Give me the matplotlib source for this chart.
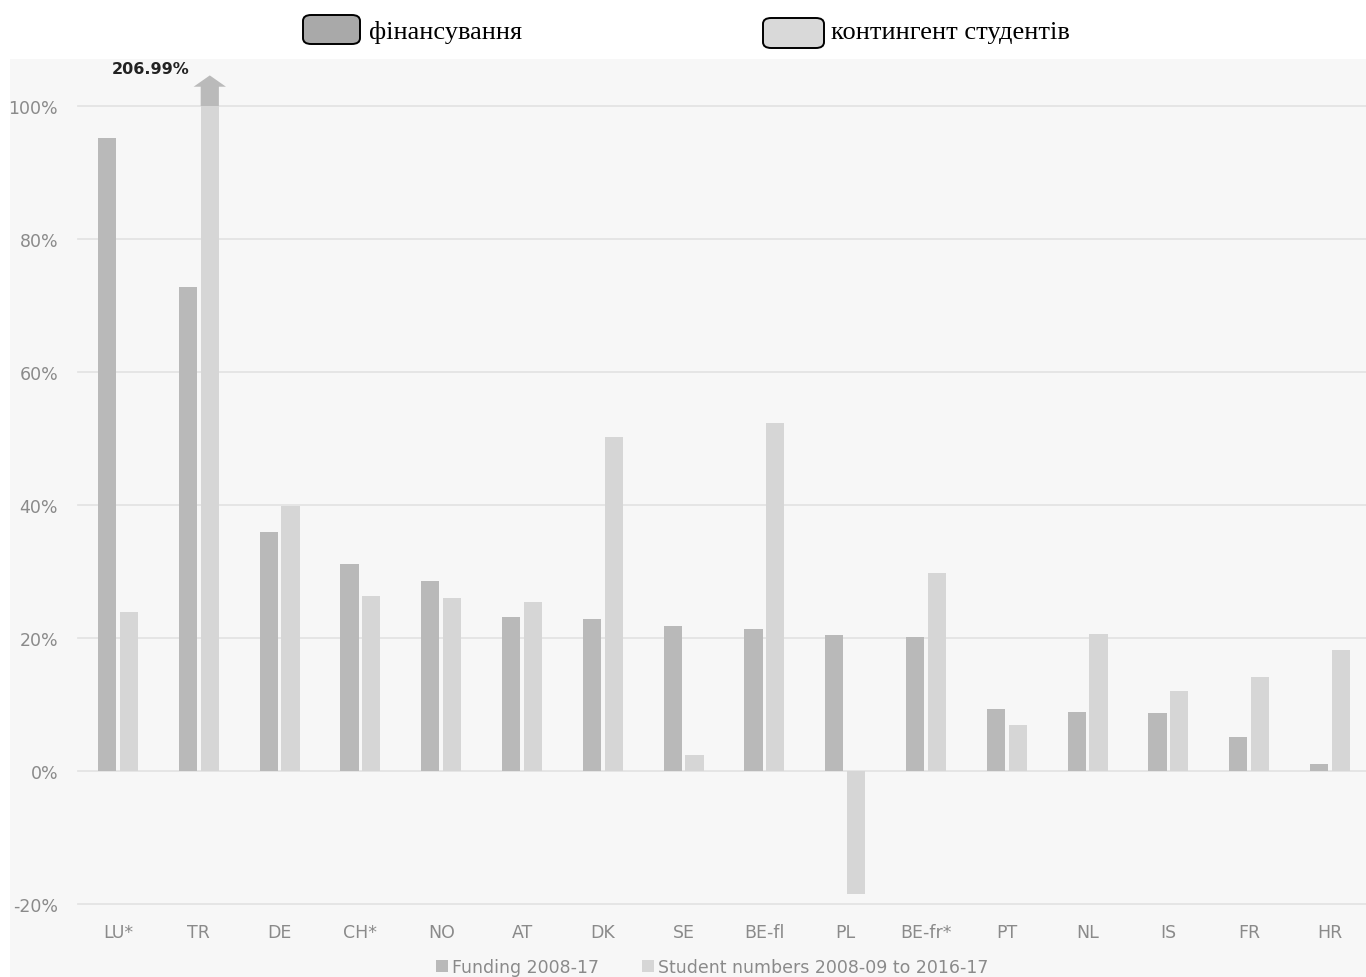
import numpy as np
import matplotlib
matplotlib.use("Agg")
import matplotlib.pyplot as plt
from matplotlib.patches import Rectangle, FancyBboxPatch, Polygon, Patch

# data (% change)
countries = ["LU*", "TR", "DE", "CH*", "NO", "AT", "DK", "SE", "BE-fl", "PL",
             "BE-fr*", "PT", "NL", "IS", "FR", "HR"]
funding = [95.2, 72.8, 35.9, 31.1, 28.5, 23.1, 22.8, 21.8, 21.3, 20.4,
           20.1, 9.3, 8.9, 8.7, 5.1, 1.1]
students = [23.9, 206.99, 39.8, 26.3, 26.0, 25.4, 50.2, 2.4, 52.3, -18.5,
            29.7, 6.9, 20.6, 12.0, 14.1, 18.2]
yticks = [-20, 0, 20, 40, 60, 80, 100]

c_fund = "#b9b9b9"
c_stud = "#d6d6d6"
c_text = "#8a8a8a"

W, H = 1366, 978
fig = plt.figure(figsize=(W / 100, H / 100), dpi=100)
fig.patch.set_facecolor("white")

# grey panel behind the chart
fig.patches.append(Rectangle((10 / W, 0), 1 - 10 / W, (H - 60) / H,
                             transform=fig.transFigure, facecolor="#f7f7f7",
                             edgecolor="none", zorder=-5))

# axes: -20% at y=905 px, 100% at y=107 px
left = 77.6 / W
width = 16 * 80.8 / W
bottom = (H - 905) / H
top = (H - 107) / H
ax = fig.add_axes([left, bottom, width, top - bottom])
ax.set_zorder(1)
ax.set_facecolor("none")
ax.set_xlim(-0.5, len(countries) - 0.5)
ax.set_ylim(-20, 100)

for t in yticks:
    ax.axhline(t, color="#e4e4e4", lw=1.3, zorder=1, clip_on=False)

x = np.arange(len(countries))
bw = 0.225
off = 0.136
stud_plot = [min(v, 100) for v in students]
ax.bar(x - off, funding, bw, color=c_fund, zorder=2)
ax.bar(x + off, stud_plot, bw, color=c_stud, zorder=2)

# arrow for the capped TR bar
i = countries.index("TR")
xc = i + off
hw = 0.2
stem = bw / 2
arrow = Polygon([(xc - stem, 100), (xc - stem, 102.9), (xc - hw, 102.9), (xc, 104.6),
                 (xc + hw, 102.9), (xc + stem, 102.9), (xc + stem, 100)],
                closed=True, facecolor="#bababa", edgecolor="none",
                clip_on=False, zorder=3)
ax.add_patch(arrow)
ax.text(i - 0.6, 105.6, f"{students[i]:.2f}%", ha="center", va="center",
        fontsize=11.5, fontweight="bold", color="#222222", clip_on=False)

for s in ax.spines.values():
    s.set_visible(False)
ax.set_yticks(yticks)
ax.set_yticklabels([f"{t}%" for t in yticks], fontsize=12.5, color=c_text)
ax.set_xticks(x)
ax.set_xticklabels(countries, fontsize=12.5, color=c_text)
ax.tick_params(axis="both", length=0)
ax.tick_params(axis="y", pad=14)
ax.tick_params(axis="x", pad=14)

# bottom legend
handles = [Patch(facecolor=c_fund, label="Funding 2008-17"),
           Patch(facecolor=c_stud, label="Student numbers 2008-09 to 2016-17")]
leg = fig.legend(handles=handles, loc="center", bbox_to_anchor=(712 / W, 1 - 968 / H),
                 ncol=2, frameon=False, fontsize=12.5, handlelength=0.7,
                 handleheight=0.7, handletextpad=0.2, columnspacing=2.5)
for t in leg.get_texts():
    t.set_color(c_text)

# top legend with rounded boxes
def top_box(x0, y0, x1, y1, color, label, tx, ty):
    fig.patches.append(FancyBboxPatch((x0 / W, 1 - y1 / H), (x1 - x0) / W, (y1 - y0) / H,
                                      boxstyle="round,pad=0,rounding_size=0.006",
                                      transform=fig.transFigure, facecolor=color,
                                      edgecolor="black", lw=1.4, zorder=2))
    fig.text(tx / W, 1 - ty / H, label, ha="left", va="center",
             fontsize=19, family="Liberation Serif", color="black")

top_box(303, 16, 360, 45, "#a9a9a9", "фінансування", 369, 33)
top_box(763, 19, 824, 49, "#d9d9d9", "контингент студентів", 831, 33)

fig.savefig("out.png", dpi=100)
